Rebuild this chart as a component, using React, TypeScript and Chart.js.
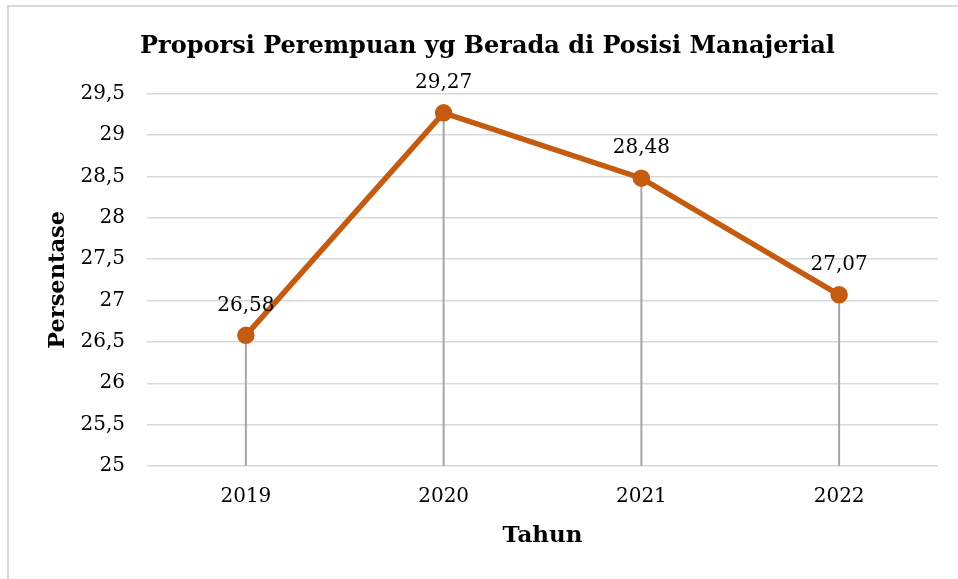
import React, { useEffect, useRef } from 'react';
import Chart from 'chart.js/auto';

const categories: string[] = ['2019', '2020', '2021', '2022'];
const values: number[] = [26.58, 29.27, 28.48, 27.07];
const yMin = 25;
const yMax = 29.5;
const yStep = 0.5;
const chartTitle = 'Proporsi Perempuan yg Berada di Posisi Manajerial';
const xTitle = 'Tahun';
const yTitle = 'Persentase';

const FONT = "'DejaVu Serif', serif";
const LINE_COLOR = '#C55A11';

const fmt = (v: number) => String(v).replace('.', ',');

export default function App() {
  const ref = useRef<HTMLCanvasElement | null>(null);

  useEffect(() => {
    if (!ref.current) return;
    const dropAndLabels = {
      id: 'dropAndLabels',
      beforeDatasetsDraw(chart: any) {
        const { ctx, chartArea } = chart;
        const meta = chart.getDatasetMeta(0);
        ctx.save();
        ctx.strokeStyle = '#a6a6a6';
        ctx.lineWidth = 2;
        meta.data.forEach((p: any) => {
          ctx.beginPath();
          ctx.moveTo(p.x, p.y);
          ctx.lineTo(p.x, chartArea.bottom);
          ctx.stroke();
        });
        ctx.restore();
      },
      afterDatasetsDraw(chart: any) {
        const { ctx } = chart;
        const meta = chart.getDatasetMeta(0);
        ctx.save();
        ctx.fillStyle = '#000';
        ctx.font = `20px ${FONT}`;
        ctx.textAlign = 'center';
        ctx.textBaseline = 'middle';
        meta.data.forEach((p: any, i: number) => {
          ctx.fillText(fmt(values[i]), p.x, p.y - 30);
        });
        ctx.restore();
      },
    };

    const chart = new Chart(ref.current, {
      type: 'line',
      data: {
        labels: categories,
        datasets: [
          {
            data: values,
            borderColor: LINE_COLOR,
            backgroundColor: LINE_COLOR,
            borderWidth: 5.5,
            pointRadius: 6,
            pointBackgroundColor: LINE_COLOR,
            pointBorderColor: LINE_COLOR,
            tension: 0,
          },
        ],
      },
      options: {
        responsive: false,
        animation: false,
        layout: { padding: { left: 37, right: 20, top: 0, bottom: 0 } },
        plugins: {
          legend: { display: false },
          tooltip: { enabled: false },
          title: {
            display: true,
            text: chartTitle,
            color: '#000',
            font: { family: FONT, size: 24, weight: 'bold' },
            padding: { top: 32, bottom: 33 },
          },
        },
        scales: {
          x: {
            offset: true,
            grid: { display: false, drawTicks: false },
            border: { display: false },
            ticks: {
              color: '#000',
              font: { family: FONT, size: 20 },
              padding: 19,
            },
            title: {
              display: true,
              text: xTitle,
              color: '#000',
              font: { family: FONT, size: 23, weight: 'bold' },
              padding: { top: 0, bottom: 29 },
            },
            afterFit(scale: any) {
              scale.height = 113;
            },
          },
          y: {
            min: yMin,
            max: yMax,
            grid: { color: '#d9d9d9', lineWidth: 1.5, drawTicks: false },
            border: { display: false },
            ticks: {
              stepSize: yStep,
              color: '#000',
              font: { family: FONT, size: 20 },
              padding: 22,
              callback: (v: any) => fmt(Number(v)),
            },
            title: {
              display: true,
              text: yTitle,
              color: '#000',
              font: { family: FONT, size: 22.5, weight: 'bold' },
              padding: { top: 8, bottom: 0 },
            },
            afterFit(scale: any) {
              scale.width = 110;
            },
          },
        },
      },
      plugins: [dropAndLabels],
    } as any);
    return () => chart.destroy();
  }, []);

  return (
    <div style={{ position: 'fixed', left: 0, top: 0, width: 958, height: 579, background: '#fff', overflow: 'hidden' }}>
      <div
        style={{
          position: 'absolute',
          left: 7,
          top: 5,
          width: 980,
          height: 600,
          borderLeft: '2px solid #d9d9d9',
          borderTop: '2px solid #d9d9d9',
        }}
      />
      <canvas ref={ref} width={958} height={579} style={{ position: 'absolute', left: 0, top: 0, width: 958, height: 579 }} />
    </div>
  );
}
